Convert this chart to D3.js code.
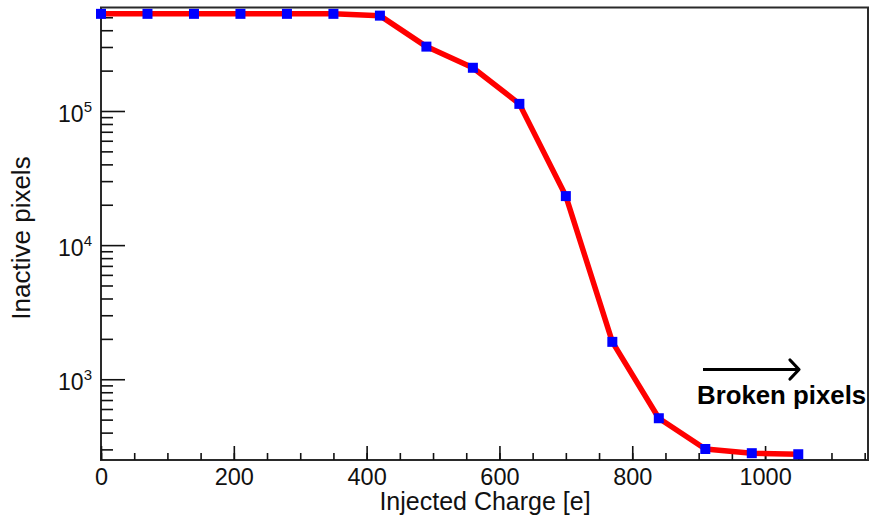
<!DOCTYPE html>
<html>
<head>
<meta charset="utf-8">
<script src="https://cdn.jsdelivr.net/npm/d3@7"></script>
<style>
  html, body { margin: 0; padding: 0; background: #fff; }
  svg { display: block; font-family: "Liberation Sans", Arial, Helvetica, sans-serif; }
</style>
</head>
<body>
<svg id="chart" width="870" height="520"></svg>
<script>
// Injected charge scan: inactive pixel count per charge step
const charge = [0, 70, 140, 210, 280, 350, 420, 490, 560, 630, 700, 770, 840, 910, 980, 1050];
const inactive = [530000, 530000, 530000, 530000, 530000, 530000, 514000, 302000, 210000, 113000, 23200, 1900, 512, 302, 281, 276];

const xMajorTicks = [0, 200, 400, 600, 800, 1000];
const xMinorTicks = d3.range(0, 1151, 50);
const yMajorTicks = [1e3, 1e4, 1e5];
const yMinorTicks = [300, 400, 500, 600, 700, 800, 900,
                     2000, 3000, 4000, 5000, 6000, 7000, 8000, 9000,
                     20000, 30000, 40000, 50000, 60000, 70000, 80000, 90000,
                     200000, 300000, 400000, 500000];
const yExponents = ["3", "4", "5"];

const xTitle = "Injected Charge [e]";
const yTitle = "Inactive pixels";
const noteText = "Broken pixels";

const W = 870, H = 520;
const m = { left: 101, right: 2, top: 7.5, bottom: 60 };
const svg = d3.select("#chart");

const x = d3.scaleLinear().domain([0, 1155]).range([m.left, W - m.right]);
const y = d3.scaleLog().domain([250, 591000]).range([H - m.bottom, m.top]);

const ink = "#111";

// Frame
svg.append("rect")
  .attr("x", x.range()[0]).attr("y", m.top)
  .attr("width", x.range()[1] - x.range()[0])
  .attr("height", (H - m.bottom) - m.top)
  .attr("fill", "none").attr("stroke", "#2a2a2a").attr("stroke-width", 2);

// X axis: inward ticks, labels at majors
const xAxisMinor = d3.axisBottom(x).tickValues(xMinorTicks).tickSize(-7).tickFormat("");
const xAxisMajor = d3.axisBottom(x).tickValues(xMajorTicks).tickSize(-14).tickPadding(22).tickFormat(d3.format("d"));
const gxMinor = svg.append("g").attr("transform", `translate(0,${H - m.bottom})`).call(xAxisMinor);
const gxMajor = svg.append("g").attr("transform", `translate(0,${H - m.bottom})`).call(xAxisMajor);
[gxMinor, gxMajor].forEach(g => {
  g.select(".domain").remove();
  g.selectAll(".tick line").attr("stroke", ink).attr("stroke-width", 1.6);
});
gxMajor.selectAll(".tick text")
  .attr("fill", ink).attr("font-size", 23.5).attr("dy", 0).attr("y", 24.5);

// Y axis: inward ticks, power-of-ten labels
const yAxisMinor = d3.axisLeft(y).tickValues(yMinorTicks).tickSize(-12).tickFormat("");
const yAxisMajor = d3.axisLeft(y).tickValues(yMajorTicks).tickSize(-24).tickFormat("");
const gyMinor = svg.append("g").attr("transform", `translate(${m.left},0)`).call(yAxisMinor);
const gyMajor = svg.append("g").attr("transform", `translate(${m.left},0)`).call(yAxisMajor);
[gyMinor, gyMajor].forEach(g => {
  g.select(".domain").remove();
  g.selectAll(".tick line").attr("stroke", ink).attr("stroke-width", 1.6);
});
yMajorTicks.forEach((v, i) => {
  const t = svg.append("text")
    .attr("x", m.left - 9).attr("y", y(v) + 11)
    .attr("text-anchor", "end").attr("fill", ink).attr("font-size", 23);
  t.append("tspan").text("10");
  t.append("tspan").attr("dy", -10).attr("font-size", 15).text(yExponents[i]);
});

// Axis titles
svg.append("text")
  .attr("x", 485).attr("y", 510)
  .attr("text-anchor", "middle").attr("fill", ink).attr("font-size", 25)
  .text(xTitle);
svg.append("text")
  .attr("transform", "translate(30,238) rotate(-90)")
  .attr("text-anchor", "middle").attr("fill", ink).attr("font-size", 26)
  .text(yTitle);

// Series line and markers
const line = d3.line().x((d, i) => x(charge[i])).y(d => y(d));
svg.append("path")
  .datum(inactive)
  .attr("d", line)
  .attr("fill", "none").attr("stroke", "#ff0000").attr("stroke-width", 5.5)
  .attr("stroke-linejoin", "round");

const s = 10;
svg.append("g").selectAll("rect")
  .data(inactive)
  .join("rect")
  .attr("x", (d, i) => x(charge[i]) - s / 2)
  .attr("y", d => y(d) - s / 2)
  .attr("width", s).attr("height", s)
  .attr("fill", "#0000ff");

// Annotation arrow and note
const ax0 = 703, ax1 = 799, ay = 369.5;
svg.append("line")
  .attr("x1", ax0).attr("y1", ay).attr("x2", ax1).attr("y2", ay)
  .attr("stroke", "#000").attr("stroke-width", 3.2);
svg.append("path")
  .attr("d", `M${ax1 - 9},${ay - 9.5} L${ax1},${ay} L${ax1 - 9},${ay + 9.5}`)
  .attr("fill", "none").attr("stroke", "#000").attr("stroke-width", 3.2)
  .attr("stroke-linecap", "round").attr("stroke-linejoin", "round");
svg.append("text")
  .attr("x", 697).attr("y", 403.5)
  .attr("fill", "#000").attr("font-size", 25.8).attr("font-weight", "bold")
  .text(noteText);
</script>
</body>
</html>
